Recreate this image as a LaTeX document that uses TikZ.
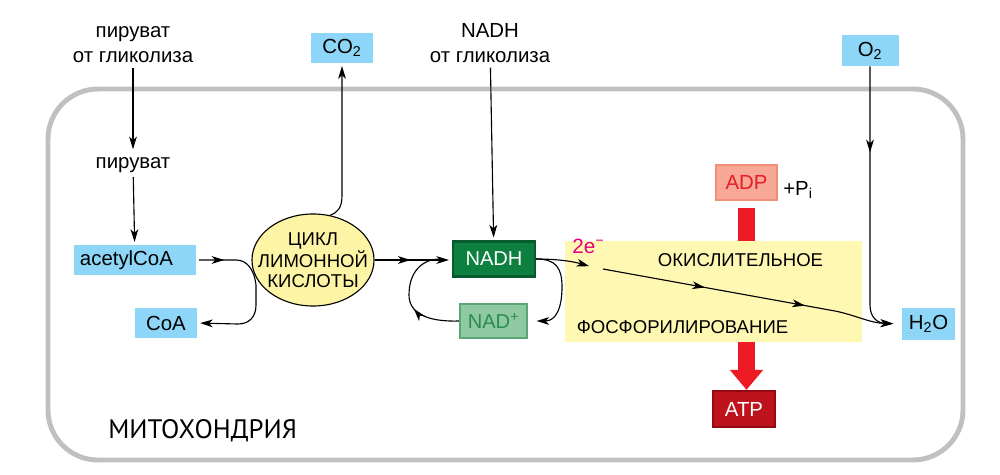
\documentclass[tikz,border=0pt]{standalone}
\usepackage{fontspec}
\setmainfont{Liberation Sans}
\newfontfamily\mitofont{PT Sans}
\usetikzlibrary{arrows.meta,decorations.markings,calc,shapes.geometric}

\definecolor{molblue}{RGB}{141,214,248}
\definecolor{membrane}{RGB}{192,192,192}
\definecolor{cyclefill}{RGB}{253,245,165}
\definecolor{oxfill}{RGB}{255,248,178}
\definecolor{nadhfill}{RGB}{13,128,64}
\definecolor{nadhedge}{RGB}{6,92,44}
\definecolor{nadfill}{RGB}{142,201,162}
\definecolor{nadedge}{RGB}{92,166,117}
\definecolor{nadtext}{RGB}{44,140,80}
\definecolor{adpfill}{RGB}{247,168,150}
\definecolor{adpedge}{RGB}{240,142,122}
\definecolor{adptext}{RGB}{230,30,40}
\definecolor{atpfill}{RGB}{190,18,28}
\definecolor{atpedge}{RGB}{148,10,18}
\definecolor{barred}{RGB}{237,28,36}
\definecolor{emag}{RGB}{228,0,124}

\tikzset{
    >={Stealth[length=9pt,width=5.5pt,inset=2.5pt]},
    flow/.style={line width=0.8pt, ->, shorten >=2pt},
    midtip/.style={postaction={decorate,
        decoration={markings, mark=at position #1 with {\arrow{>}}}}},
    txt/.style={font=\fontsize{14.5}{17.8}\selectfont, align=center},
    mol/.style={fill=molblue, inner sep=0pt, font=\fontsize{14.5}{17}\selectfont},
    carrier/.style={line width=1.6pt, inner sep=0pt, font=\fontsize{14.3}{17}\selectfont},
    bigarr/.style={barred, line width=11.4pt, -{Triangle[width=22.8pt,length=14.2pt]}},
}

\begin{document}
\begin{tikzpicture}[x=0.025cm, y=-0.025cm]
    \useasboundingbox (0,0) rectangle (1000,474);

    % mitochondrion
    \draw[membrane, line width=3.5pt, rounded corners=1.25cm] (48,89) rectangle (963,460);
    \node[font=\mitofont\fontsize{19}{22}\selectfont, anchor=base west, inner sep=0pt]
        (mito) at (108,438) {МИТОХОНДРИЯ};

    % inputs and outputs
    \node[txt] (pyrgly) at (133,45) {пируват\\от гликолиза};
    \node[txt, anchor=base] (pyr) at (133,168) {пируват};
    \node[txt] (nadhgly) at (490,43) {NADH\\от гликолиза};
    \node[mol, minimum width=1.525cm, minimum height=0.75cm] (co2) at (342,48) {CO\textsubscript{2}};
    \node[mol, minimum width=1.425cm, minimum height=0.775cm] (o2) at (870,50.5) {O\textsubscript{2}};
    \node[mol, minimum width=3.05cm, minimum height=0.75cm, text width=2.75cm, align=left]
        (acetyl) at (135,260) {acetylCoA};
    \node[mol, minimum width=1.55cm, minimum height=0.75cm] (coa) at (166,323) {CoA};
    \node[mol, minimum width=1.325cm, minimum height=0.8cm] (h2o) at (928.5,324) {H\textsubscript{2}O};

    % citric acid cycle
    \node[ellipse, draw, line width=0.8pt, fill=cyclefill, minimum width=3.05cm, minimum height=2.3cm,
        inner sep=0pt] (cycle) at (313,260) {};
    \node[align=center, font=\fontsize{13.2}{14.2}\selectfont] (cycletxt) at (cycle) {ЦИКЛ\\ЛИМОННОЙ\\КИСЛОТЫ};

    % carriers
    \node[carrier, fill=nadhfill, draw=nadhedge, text=white, minimum width=2.05cm, minimum height=0.875cm]
        (nadh) at (494,259) {NADH};
    \node[carrier, fill=nadfill, draw=nadedge, text=nadtext, minimum width=1.675cm, minimum height=0.85cm]
        (nad) at (493.5,321) {NAD\textsuperscript{+}};
    \node[carrier, fill=adpfill, draw=adpedge, text=adptext, minimum width=1.525cm, minimum height=0.875cm,
        font=\fontsize{14.5}{17}\selectfont] (adp) at (746.5,182.5) {ADP};
    \node[carrier, fill=atpfill, draw=atpedge, text=white, minimum width=1.55cm, minimum height=0.9cm,
        font=\fontsize{14.5}{17}\selectfont] (atp) at (744,409) {ATP};
    \node[txt, anchor=base west, inner sep=0pt] (pi) at (783,195) {+P\textsubscript{i}};

    % oxidative phosphorylation
    \draw[bigarr] ($(adp.south)+(0,7)$) -- (adp.south |- atp.north);
    \fill[oxfill] (565,241) rectangle (862,342);
    \node[font=\fontsize{13.2}{15}\selectfont] (oxi) at (740.5,260) {ОКИСЛИТЕЛЬНОЕ};
    \node[font=\fontsize{13.2}{15}\selectfont] (phos) at (682.5,327) {ФОСФОРИЛИРОВАНИЕ};
    \node[font=\fontsize{14.7}{17}\selectfont, text=emag, anchor=base west, inner sep=0pt]
        (elec) at (572,253) {2e\textsuperscript{−}};

    % connectors
    \coordinate (nadhin) at (440,259);
    \coordinate (e1) at (592,267);
    \coordinate (e2) at (603,269);
    \draw[flow] (pyrgly) -- (pyr);
    \draw[flow] (pyr) -- (acetyl);
    \draw[flow] (nadhgly) -- (nadh);
    \draw[flow, midtip=0.7cm, shorten <=2pt] (acetyl.east) -- (236,260)
        .. controls (246,260) and (254,268) .. (256,285) -- (256,305)
        .. controls (256,317) and (249,324) .. (238,324) -- (coa.east);
    \draw[flow] (cycle.69) .. controls (337,213) and (342,208) .. (342,196) -- (co2.south);
    \draw[flow, midtip=0.9cm] (cycle.east) -- (cycle.east -| nadh.west);
    \draw[line width=0.8pt, midtip=1.2cm] (nad.west) .. controls (425,322) and (409,312) .. (409,295)
        .. controls (409,272) and (422,259) .. (nadhin);
    \draw[flow, shorten >=6pt] (nadh.east) .. controls (556,259) and (562,268) .. (562,287)
        .. controls (562,308) and (556,321) .. (nad.east);
    \draw[flow] (nadh.east) .. controls (560,259) and (575,262) .. (e1);
    \draw[flow, midtip=2.59cm, midtip=5.13cm, shorten >=6pt] (e2) -- (835,311)
        .. controls (855,315) and (870,323) .. (h2o.west);
    \draw[flow, midtip=2.15cm, shorten >=6pt] (o2.south) -- (870,305)
        .. controls (870,318) and (878,323) .. (h2o.west);
\end{tikzpicture}
\end{document}
